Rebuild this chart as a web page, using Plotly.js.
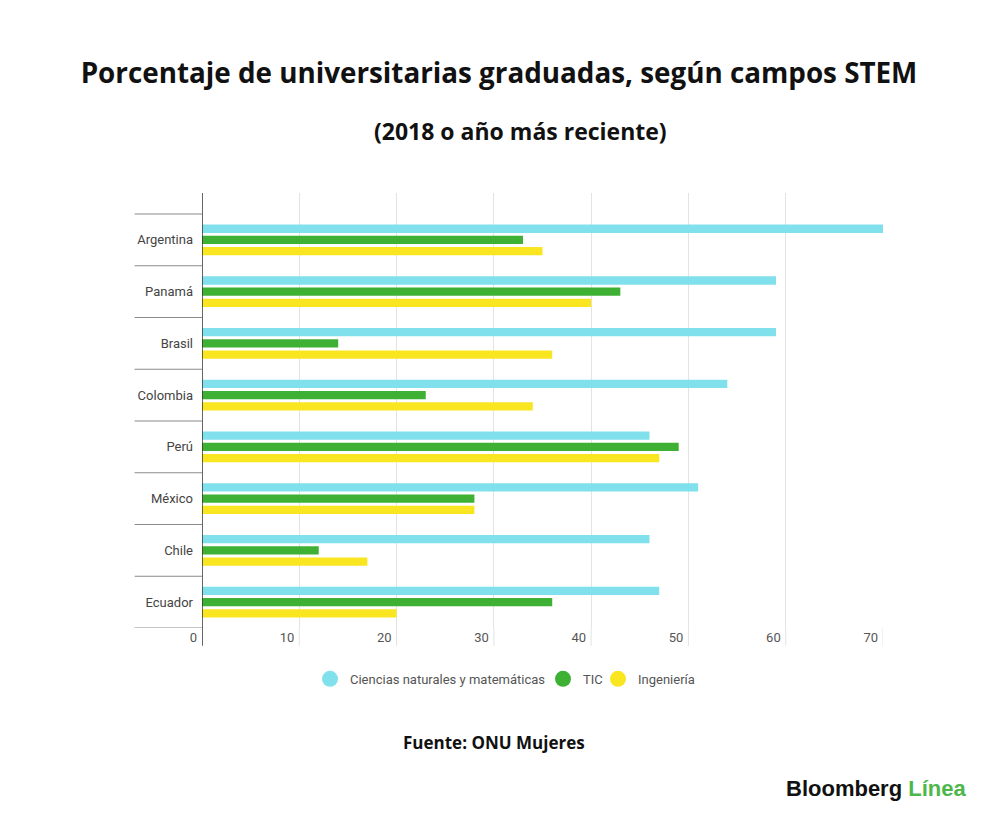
<!DOCTYPE html>
<html><head><meta charset="utf-8">
<script src="https://cdn.plot.ly/plotly-3.0.1.min.js"></script>
<style>html,body{margin:0;padding:0;background:#fff;}</style>
</head><body>
<div id="chart" style="width:1000px;height:818px;"></div>
<script>
const countries = ["Argentina","Panamá","Brasil","Colombia","Perú","México","Chile","Ecuador"];
const ciencias = [70,59,59,54,46,51,46,47];
const tic = [33,43,14,23,49,28,12,36];
const ingenieria = [35,40,36,34,47,28,17,20];
const seriesNames = ["Ciencias naturales y matemáticas","TIC","Ingeniería"];
const seriesColors = ["#80e1ec","#3eb135","#f9e620"];
const xTicks = [0,10,20,30,40,50,60,70];

const values = [ciencias, tic, ingenieria];
const legendIds = ['legend','legend2','legend3'];
const traces = [];
values.forEach((v,i)=>{
  traces.push({type:'bar', orientation:'h', x:v, y:countries, name:seriesNames[i],
    marker:{color:seriesColors[i]}, showlegend:false, hoverinfo:'x+y'});
});
values.forEach((v,i)=>{
  traces.push({type:'scatter', mode:'markers', x:[null], y:[null], name:seriesNames[i],
    marker:{color:seriesColors[i], size:16, symbol:'circle'}, showlegend:true, legend:legendIds[i]});
});

const shapes = [];
for (let i=0;i<=countries.length;i++){
  shapes.push({type:'line', xref:'paper', yref:'y', x0:-0.099, x1:0, y0:i-0.5, y1:i-0.5,
    line:{color:'#8a8a8a', width:1.2}});
}
xTicks.slice(1).forEach(t=>{
  shapes.push({type:'line', xref:'x', yref:'paper', x0:t, x1:t, y0:-0.041, y1:0,
    line:{color:'#e3e3e3', width:1}});
});
shapes.push({type:'line', xref:'x', yref:'paper', x0:0, x1:0, y0:-0.041, y1:1,
  line:{color:'#333', width:1.5}});

const legendFont = {family:'Roboto', size:13, color:'#555'};
const mkLegend = (px)=>({orientation:'h', x:(px-202)/681, xanchor:'left', y:-0.117, yanchor:'middle',
  font:legendFont, bgcolor:'rgba(0,0,0,0)'});

const layout = {
  width:1000, height:818,
  paper_bgcolor:'#fff', plot_bgcolor:'#fff',
  margin:{l:202, r:117, t:193, b:190},
  title:{text:'Porcentaje de universitarias graduadas, según campos STEM',
    font:{family:'Open Sans', size:27.8, color:'#111', weight:700},
    x:0.499, xanchor:'center', y:1-73/818, yanchor:'middle', yref:'container'},
  barmode:'group', bargap:0.35, bargroupgap:0.25,
  xaxis:{range:[0,70], tickvals:xTicks, ticktext:xTicks.map(String),
    showgrid:true, gridcolor:'#e3e3e3', gridwidth:1, zeroline:false, showline:false,
    ticks:'', ticklabelposition:'outside left', ticklabelshift:-5,
    tickfont:{family:'Roboto', size:13, color:'#555'}, fixedrange:true},
  yaxis:{type:'category', range:[7.5,-0.906], showgrid:false, zeroline:false,
    showline:false, ticks:'', ticklabelstandoff:8,
    tickfont:{family:'Roboto', size:13, color:'#444'}, fixedrange:true},
  legend:mkLegend(310),
  legend2:mkLegend(543),
  legend3:mkLegend(598),
  shapes:shapes,
  annotations:[
    {text:'(2018 o año más reciente)', xref:'paper', yref:'paper', x:0.467, y:1.1425,
      xanchor:'center', yanchor:'middle', showarrow:false,
      font:{family:'Open Sans', size:23, color:'#111', weight:700}},
    {text:'Fuente: ONU Mujeres', xref:'paper', yref:'paper', x:0.4295, y:-0.264,
      xanchor:'center', yanchor:'middle', showarrow:false,
      font:{family:'Open Sans', size:17, color:'#111', weight:700}},
    {text:'Bloomberg <span style="color:#4cb74a">Línea</span>', xref:'paper', yref:'paper',
      x:(968-202)/681, y:-0.368, xanchor:'right', yanchor:'middle', showarrow:false,
      font:{family:'Liberation Sans', size:22, color:'#111', weight:700}}
  ]
};
Plotly.newPlot('chart', traces, layout, {displayModeBar:false, staticPlot:true});
</script>
</body></html>
